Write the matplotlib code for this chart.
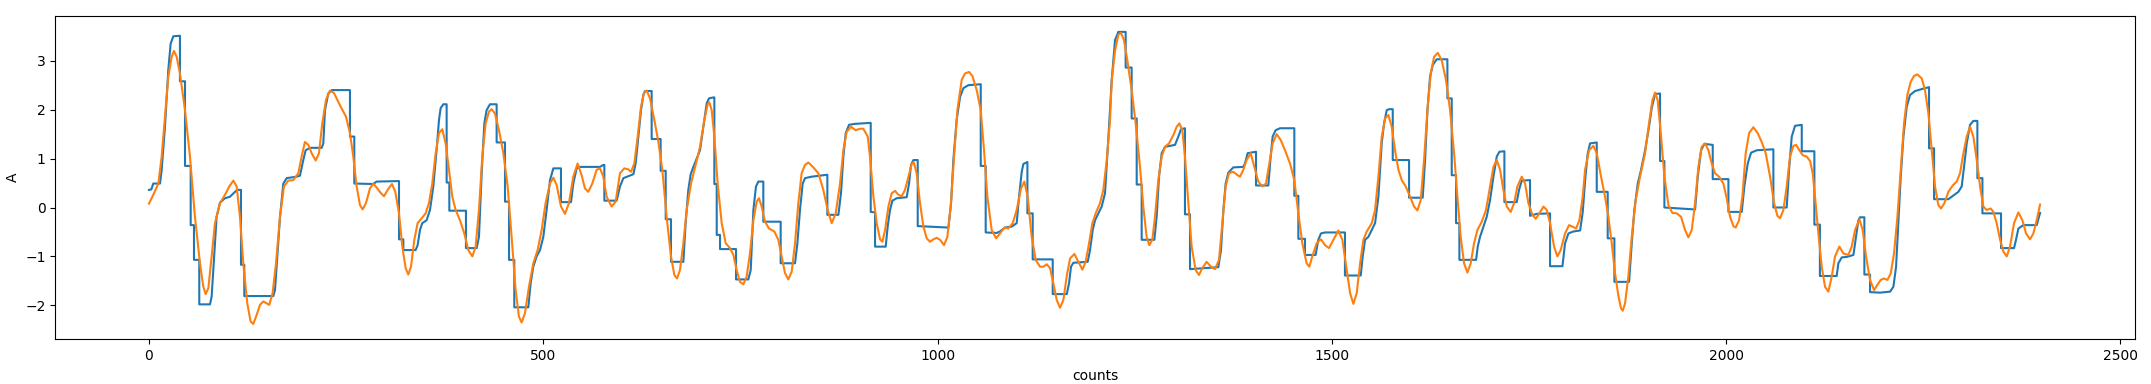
import matplotlib
matplotlib.use("Agg")
import matplotlib.pyplot as plt

# step signal (blue), vertices
blue_counts = [0, 3, 5.5, 14, 16.1, 20.3, 24.5, 27.5, 30.9, 39.3,
               39.3, 45.7, 45.7, 52.9, 52.9, 57.1, 57.1, 63.8, 63.8, 77.4,
               79.5, 82.4, 85.8, 90.1, 96.4, 102.7, 109.1, 112.0, 116.7,
               116.7, 120.9, 120.9, 157.7,
               159.8, 162.8, 166.2, 170.4, 174.6, 187.3, 191.5, 195.7, 198.7, 204.2, 219.0, 221.1, 223.2, 227.4, 231.7, 254.9,
               254.9, 260.4, 260.4, 284.5, 288.7, 317.1,
               317.1, 322.6, 322.6, 338.2, 340.7, 343.7, 346.6, 352.1, 356.4, 360.6, 364.8, 367.8, 369.9, 373.3, 377.5,
               377.5, 380.9, 380.9, 402.0, 402.0, 415.6,
               418.5, 421.9, 425.3, 428.2, 432.5, 440.9,
               440.9, 451.5, 451.5, 456.6, 456.6, 463.3, 463.3, 481.1,
               484.0, 487.4, 491.6, 495.9, 500.1, 504.3, 508.6, 512.8, 522.5,
               522.5, 535.2, 538.1, 542.4, 546.6, 572.0, 576.2, 577.5,
               577.5, 593.1, 597.3, 601.6,
               614.3, 617.2, 620.6, 624.0, 627.0, 629.1, 637.5,
               637.5, 648.9, 648.9, 655.3, 655.3, 662.0, 662.0, 677.7,
               680.6, 684.0, 687.0, 690.4, 694.6, 698.8, 703.0, 707.3, 710.2, 715.7, 717.0,
               717.0, 720.0, 720.0, 724.2, 724.2, 744.5, 744.5, 760.1,
               763.1, 766.5, 769.8, 772.8, 779.1,
               779.1, 801.1, 801.1, 819.3,
               822.3, 825.6, 829.0, 832.0, 840.4, 860.3,
               860.3, 874.3, 877.6, 880.6, 883.6, 887.8, 895.4, 915.3,
               915.3, 920.8, 920.8, 934.3, 936.8, 939.8, 942.8, 948.3, 960.9, 963.9, 966.4, 969.4, 974.9,
               974.9, 1013.8, 1017.2, 1020.1, 1024.3, 1028.6, 1032.8, 1039.1, 1054.8,
               1054.8, 1061.1, 1061.1, 1075.1, 1079.3, 1085.6, 1094.1, 1100.4, 1103.4, 1106.8, 1108.9, 1114.0,
               1114.0, 1120.7, 1120.7, 1146.1, 1146.1, 1163.9,
               1166.8, 1169.3, 1172.3, 1190.5, 1193.4, 1196.8, 1199.8, 1204.0, 1208.2, 1212.4,
               1216.6, 1220.9, 1225.1, 1229.3, 1238.6,
               1238.6, 1246.2, 1246.2, 1252.6, 1252.6, 1258.9, 1258.9, 1275.0,
               1277.9, 1280.9, 1284.3, 1288.5, 1301.2, 1305.4, 1308.8, 1313.8,
               1313.8, 1320.2, 1320.2, 1356.1,
               1359.5, 1362.5, 1365.4, 1368.8, 1375.1, 1387.8, 1389.9, 1393.3, 1403.9,
               1403.9, 1419.5, 1422.5, 1425.0, 1428.8, 1434.3, 1452.5,
               1452.5, 1457.6, 1457.6, 1466.0, 1466.0, 1479.5,
               1482.9, 1486.3, 1491.4, 1516.7,
               1516.7, 1536.7,
               1539.2, 1542.2, 1546.4, 1550.7, 1554.9, 1559.1, 1563.3, 1566.3, 1569.7, 1573.1, 1577.3,
               1577.3, 1598.0, 1598.0, 1615.3,
               1618.3, 1621.3, 1624.6, 1628.0, 1633.1, 1646.6,
               1646.6, 1652.1, 1652.1, 1657.6, 1657.6, 1661.8, 1661.8, 1683.0,
               1685.1, 1688.0, 1692.3, 1696.5, 1700.7, 1705.0, 1709.2, 1712.6, 1718.9,
               1718.9, 1734.5, 1737.5, 1740.9, 1751.4,
               1751.4, 1759.9, 1776.8, 1776.8, 1792.5,
               1795.8, 1800.1, 1806.4, 1814.9, 1818.2, 1821.5, 1824.5, 1827.5, 1836.0,
               1836.0, 1849.9, 1849.9, 1858.4, 1858.4, 1877.0,
               1880.4, 1883.7, 1888.0, 1892.2, 1897.3, 1902.3, 1905.7, 1910.0, 1916.3,
               1916.3, 1921.8, 1921.8, 1960.7,
               1964.1, 1968.3, 1972.5, 1983.1,
               1983.1, 2003.0, 2003.0, 2019.9,
               2023.2, 2027.5, 2031.7, 2038.9, 2060.0,
               2060.0, 2076.9, 2079.9, 2083.3, 2087.5, 2096.0,
               2096.0, 2112.0, 2112.0, 2119.0, 2119.0, 2140.3,
               2142.4, 2146.7, 2153.0, 2161.5, 2164.8, 2167.8, 2169.9, 2175.4,
               2175.4, 2182.6, 2182.6, 2195.3, 2208.0, 2212.2, 2215.6, 2218.5, 2221.5, 2224.9, 2229.1, 2233.3, 2239.7, 2248.1, 2257.4,
               2257.4, 2263.8, 2263.8, 2281.9, 2286.2, 2294.6, 2298.8, 2301.8, 2305.2, 2309.4, 2313.6, 2318.7,
               2318.7, 2325.1, 2325.1, 2348.7, 2348.7, 2365.2,
               2367.7, 2370.7, 2377.0, 2394.0, 2398.2]
blue_A = [0.36, 0.37, 0.49, 0.49, 0.77, 1.65, 2.81, 3.35, 3.50, 3.51,
          2.58, 2.58, 0.85, 0.85, -0.36, -0.36, -1.07, -1.07, -1.98, -1.98,
          -1.82, -1.07, -0.19, 0.10, 0.19, 0.22, 0.32, 0.36, 0.36,
          -1.17, -1.17, -1.81, -1.81,
          -1.69, -1.0, -0.19, 0.49, 0.60, 0.63, 0.65, 0.97, 1.17, 1.22, 1.22, 1.31, 1.99, 2.33, 2.40, 2.40,
          1.45, 1.45, 0.49, 0.48, 0.53, 0.54,
          -0.65, -0.65, -0.87, -0.87, -0.77, -0.46, -0.32, -0.26, -0.05, 0.43, 1.18, 1.79, 2.03, 2.11, 2.11,
          0.51, 0.51, -0.065, -0.065, -0.83, -0.83,
          -0.60, 0.70, 1.72, 1.99, 2.11, 2.11,
          1.33, 1.33, 0.12, 0.12, -1.07, -1.07, -2.04, -2.04,
          -1.55, -1.21, -1.0, -0.87, -0.60, -0.05, 0.56, 0.80, 0.80,
          0.11, 0.11, 0.49, 0.80, 0.83, 0.83, 0.87, 0.87,
          0.14, 0.14, 0.43, 0.60,
          0.68, 0.90, 1.45, 1.99, 2.30, 2.38, 2.38,
          1.40, 1.40, 0.75, 0.75, -0.24, -0.24, -1.11, -1.11,
          -0.32, 0.36, 0.68, 0.83, 1.0, 1.17, 1.65, 2.13, 2.23, 2.25, 2.25,
          0.48, 0.48, -0.56, -0.56, -0.85, -0.85, -1.47, -1.47,
          -1.28, -0.05, 0.43, 0.53, 0.53,
          -0.29, -0.29, -1.14, -1.14,
          -0.73, -0.05, 0.49, 0.60, 0.63, 0.67,
          -0.15, -0.15, 0.29, 1.04, 1.52, 1.69, 1.71, 1.73,
          -0.09, -0.10, -0.80, -0.80, -0.39, -0.05, 0.14, 0.19, 0.21, 0.49, 0.87, 0.97, 0.97,
          -0.38, -0.41, 0.09, 0.97, 1.79, 2.26, 2.44, 2.50, 2.52,
          0.85, 0.85, -0.51, -0.52, -0.49, -0.41, -0.39, -0.32, 0.22, 0.73, 0.89, 0.93,
          -0.12, -0.12, -1.06, -1.06, -1.77, -1.77,
          -1.55, -1.21, -1.13, -1.11, -0.87, -0.46, -0.26, -0.12, 0.02, 0.29,
          1.4, 2.6, 3.42, 3.59, 3.59,
          2.86, 2.86, 1.82, 1.82, 0.47, 0.47, -0.66, -0.66,
          -0.19, 0.63, 1.11, 1.24, 1.28, 1.45, 1.60, 1.62,
          -0.14, -0.14, -1.26, -1.22,
          -0.87, -0.05, 0.49, 0.71, 0.82, 0.83, 0.90, 1.11, 1.14,
          0.45, 0.45, 1.04, 1.45, 1.58, 1.62, 1.62,
          0.24, 0.24, -0.64, -0.64, -0.97, -0.97,
          -0.66, -0.53, -0.51, -0.51,
          -1.39, -1.39,
          -1.0, -0.66, -0.60, -0.46, -0.32, 0.22, 1.31, 1.72, 1.99, 2.01, 2.01,
          0.97, 0.97, 0.20, 0.20,
          0.97, 1.99, 2.67, 2.91, 3.03, 3.03,
          2.23, 2.23, 0.66, 0.66, -0.32, -0.32, -1.07, -1.07,
          -0.80, -0.60, -0.39, -0.19, 0.15, 0.63, 1.04, 1.14, 1.15,
          0.11, 0.11, 0.36, 0.55, 0.56,
          -0.17, -0.13, -0.12, -1.20, -1.20,
          -0.73, -0.53, -0.49, -0.47, -0.1, 0.6, 1.1, 1.31, 1.33,
          0.32, 0.32, -0.63, -0.63, -1.52, -1.52,
          -0.73, -0.05, 0.49, 0.77, 1.17, 1.65, 2.03, 2.32, 2.33,
          0.95, 0.95, 0.0, -0.04,
          0.63, 1.17, 1.30, 1.28,
          0.58, 0.58, -0.09, -0.09,
          0.43, 0.90, 1.12, 1.17, 1.19,
          0.0, 0.0, 0.77, 1.45, 1.67, 1.69,
          1.15, 1.15, -0.35, -0.35, -1.40, -1.40,
          -1.14, -1.02, -1.01, -0.97, -0.60, -0.26, -0.20, -0.20,
          -1.37, -1.37, -1.73, -1.74, -1.72, -1.62, -1.21, -0.32, 0.63, 1.45, 2.06, 2.30, 2.38, 2.42, 2.46,
          1.21, 1.21, 0.17, 0.17, 0.22, 0.32, 0.43, 0.83, 1.31, 1.69, 1.77, 1.77,
          0.60, 0.60, -0.12, -0.12, -0.83, -0.83,
          -0.66, -0.43, -0.36, -0.36, -0.11]

# smoothed signal (orange)
orange_counts = [0, 5.5, 11.9, 16.1, 20.3, 24.5, 28.8, 31.7, 35.1, 39.3, 45.7, 52.0, 58.3, 64.7, 68.9, 71.9, 75.3,
                 79.5, 83.7, 90.1, 96.4, 101.9, 107.0, 111.2, 115.4, 119.6, 124.7, 128.9, 132.3, 136.5, 140.8,
                 145.0, 149.2, 152.6, 156.8, 161.1, 166.2, 171.2, 176.7, 183.0, 189.4, 193.6, 197.8, 202.1, 206.3,
                 211.4, 215.6, 219.8, 224.5, 229.5, 234.6, 242.2, 249.8, 254.9, 259.1, 263.4, 267.6, 271.0, 275.2,
                 280.3, 284.5, 289.6, 293.8, 298.0, 303.5, 308.2, 312.4,
                 317.1, 321.3, 325.5, 328.9, 332.3, 336.5, 340.7, 345.8, 350.9, 355.1, 359.3, 363.6, 367.8, 372.0,
                 376.2, 380.5, 384.7, 388.9, 394.4, 399.9, 405.0, 410.1, 414.3, 418.5, 422.7, 427.0, 431.2, 434.6,
                 438.8, 443.9, 449.4, 454.9, 459.9, 465.0, 469.2, 472.6, 476.8, 481.9, 487.4, 492.9, 498.0, 503.0,
                 508.5, 512.8, 517.0, 522.5, 527.6, 532.6, 538.1, 543.6, 548.7, 552.9, 557.1, 562.2, 567.7, 572.0,
                 576.2, 580.4, 586.7, 591.8, 597.3, 602.8,
                 607.9, 611.3, 615.5, 619.8, 624.0, 627.8, 631.2, 635.4, 640.9, 646.0, 651.0, 656.5, 662.0, 666.3,
                 669.6, 673.4, 677.7, 681.9, 687.4, 693.3, 698.8, 704.3, 708.5, 710.6, 713.6, 717.0, 721.2, 726.3,
                 731.4, 736.9, 741.1, 745.3, 749.5, 753.8, 758.0, 762.2, 766.5, 770.7, 773.6, 777.0, 781.2, 786.3,
                 793.1, 798.1, 802.4, 806.6, 810.8, 815.1, 819.3, 823.5, 827.7, 832.0, 836.2, 842.5, 848.9, 855.2,
                 860.7, 865.8, 870.9, 876.4, 880.6, 884.8, 890.3, 896.2, 901.7, 905.9,
                 911.5, 914.4, 918.7, 922.9, 927.1, 930.1, 933.5, 937.7, 941.9, 946.1, 950.4, 954.6, 958.8, 963.1,
                 967.3, 969.8, 973.6, 977.8, 982.1, 986.3, 990.5, 994.8, 999.0, 1003.2, 1008.3, 1012.5, 1016.7,
                 1021.0, 1025.2, 1030.7, 1034.9, 1040.0, 1044.2, 1049.7, 1054.8, 1059.0, 1063.2, 1068.7, 1074.2,
                 1079.3, 1084.8, 1089.9, 1095.4, 1100.4, 1105.9, 1110.1, 1114.4, 1119.4, 1124.5, 1130.0, 1134.2,
                 1138.5, 1142.7, 1146.9, 1151.2, 1155.4, 1159.6, 1163.8, 1168.1, 1173.6, 1178.6, 1183.7, 1187.9,
                 1192.2, 1196.4, 1200.6, 1206.1, 1210.3, 1214.6, 1218.8,
                 1220.9, 1225.1, 1229.3, 1232.7, 1236.5, 1240.7, 1246.2, 1251.3, 1256.8, 1261.0, 1265.2, 1268.6,
                 1272.4, 1275.8, 1280.0, 1284.3, 1288.5, 1293.6, 1299.1, 1303.3, 1306.7, 1310.5, 1313.8, 1318.1,
                 1322.3, 1327.4, 1331.6, 1335.8, 1341.3, 1346.8, 1351.9, 1357.0, 1361.2, 1365.4, 1369.6, 1375.1,
                 1380.6, 1383.6, 1387.8, 1392.0, 1397.1, 1401.8, 1406.8, 1411.9, 1416.6, 1420.8, 1425.0, 1430.1,
                 1435.2, 1440.7, 1447.0, 1452.5, 1457.6, 1462.6, 1468.1, 1471.5, 1475.3, 1480.8, 1486.3, 1491.4,
                 1496.5, 1502.0, 1508.3, 1513.4,
                 1519.0, 1523.2, 1527.4, 1531.6, 1535.9, 1540.1, 1544.3, 1550.7, 1554.9, 1559.1, 1563.3, 1567.6,
                 1571.8, 1576.0, 1580.2, 1584.5, 1588.7, 1593.8, 1599.3, 1604.3, 1608.6, 1612.8, 1617.0, 1621.3,
                 1625.5, 1629.7, 1634.4, 1639.4, 1644.9, 1650.0, 1655.1, 1659.3, 1663.5, 1667.7, 1672.0, 1676.2,
                 1680.4, 1684.7, 1690.2, 1695.6, 1700.7, 1705.0, 1709.2, 1713.4, 1717.6, 1721.9, 1726.9, 1731.2,
                 1735.4, 1740.9, 1745.1, 1749.3, 1754.4, 1758.6, 1762.9, 1768.4, 1772.6, 1776.8, 1781.9, 1786.1,
                 1790.3, 1795.8, 1800.9, 1805.1, 1809.8, 1814.0, 1818.2,
                 1821.2, 1826.3, 1831.7, 1836.0, 1841.5, 1846.5, 1850.8, 1855.0, 1859.2, 1863.5, 1866.8, 1869.0,
                 1871.9, 1876.1, 1880.4, 1885.4, 1890.9, 1897.3, 1902.3, 1906.6, 1910.0, 1913.3, 1917.6, 1921.8,
                 1926.9, 1931.9, 1937.4, 1942.9, 1948.0, 1952.2, 1956.5, 1960.7, 1964.9, 1969.1, 1973.4, 1977.6,
                 1981.8, 1986.0, 1991.1, 1996.6, 2000.8, 2005.1, 2009.3, 2012.2, 2016.5, 2020.7, 2024.9, 2029.2,
                 2034.6, 2040.1, 2045.2, 2050.3, 2055.8, 2060.9, 2065.1, 2068.5, 2072.7, 2076.9, 2081.1, 2085.4,
                 2088.8, 2093.0, 2097.2, 2102.3, 2106.5,
                 2109.9, 2112.8, 2117.1, 2121.3, 2125.5, 2129.8, 2134.0, 2138.2, 2143.7, 2148.8, 2155.1, 2159.3,
                 2163.6, 2169.1, 2173.3, 2177.5, 2182.6, 2187.7, 2191.9, 2196.1, 2200.3, 2204.6, 2208.8, 2213.0,
                 2217.3, 2221.5, 2225.7, 2229.9, 2234.2, 2238.4, 2242.6, 2248.1, 2252.3, 2256.6, 2260.8, 2265.0,
                 2269.2, 2272.6, 2276.9, 2281.9, 2287.4, 2292.5, 2296.7, 2301.0, 2305.2, 2309.4, 2313.6, 2317.9,
                 2322.1, 2326.3, 2330.5, 2335.6, 2339.0, 2343.2, 2347.5, 2351.7, 2355.9, 2360.1, 2365.2, 2370.7,
                 2375.8, 2380.4, 2385.5, 2389.7, 2393.9, 2398.2]
orange_A = [0.08, 0.26, 0.49, 1.04, 1.86, 2.67, 3.08, 3.20, 3.08, 2.74, 1.99, 1.04, -0.19, -1.14, -1.62, -1.77, -1.65,
            -1.0, -0.32, 0.09, 0.26, 0.43, 0.55, 0.43, -0.19, -1.14, -1.96, -2.33, -2.38, -2.20, -1.99,
            -1.92, -1.96, -1.99, -1.75, -1.14, -0.19, 0.43, 0.55, 0.56, 0.70, 1.04, 1.34, 1.28, 1.11,
            0.96, 1.11, 1.72, 2.20, 2.39, 2.34, 2.09, 1.86, 1.52, 1.04, 0.43, 0.05, -0.04, 0.09,
            0.39, 0.49, 0.39, 0.30, 0.23, 0.38, 0.48, 0.32,
            -0.12, -0.80, -1.24, -1.37, -1.21, -0.66, -0.32, -0.22, -0.12, 0.09, 0.49, 1.11, 1.52, 1.60,
            1.31, 0.77, 0.22, -0.05, -0.26, -0.53, -0.87, -1.0, -0.80, -0.05, 1.04, 1.72, 1.96, 2.01,
            1.92, 1.58, 1.11, 0.43, -0.60, -1.69, -2.23, -2.35, -2.16, -1.62, -1.14, -0.87, -0.46, 0.09,
            0.49, 0.61, 0.46, 0.02, -0.13, 0.09, 0.63, 0.90, 0.66, 0.39, 0.32, 0.49, 0.77, 0.80,
            0.63, 0.22, 0.02, 0.12, 0.70, 0.80,
            0.78, 0.73, 0.90, 1.45, 2.06, 2.35, 2.39, 2.23, 1.79, 1.34, 0.77, -0.19, -1.00, -1.38,
            -1.45, -1.28, -0.73, -0.05, 0.49, 0.87, 1.24, 1.79, 2.11, 2.15, 1.99, 1.45, 0.49, -0.32,
            -0.73, -0.83, -0.97, -1.28, -1.52, -1.57, -1.41, -0.93, -0.26, 0.12, 0.19, 0.02, -0.29, -0.43,
            -0.49, -0.66, -1.0, -1.34, -1.47, -1.31, -0.73, 0.09, 0.70, 0.87, 0.92, 0.82, 0.70, 0.36,
            -0.05, -0.32, -0.12, 0.49, 1.17, 1.55, 1.65, 1.58, 1.61, 1.61,
            1.45, 1.04, 0.22, -0.32, -0.65, -0.70, -0.46, 0.02, 0.29, 0.34, 0.26, 0.23, 0.36, 0.63,
            0.89, 0.93, 0.70, 0.09, -0.39, -0.63, -0.70, -0.65, -0.62, -0.66, -0.77, -0.60, 0.02,
            1.04, 1.99, 2.61, 2.74, 2.77, 2.69, 2.40, 1.99, 1.17, 0.22, -0.46, -0.63,
            -0.53, -0.41, -0.43, -0.32, -0.05, 0.39, 0.53, 0.22, -0.60, -1.07, -1.21, -1.21,
            -1.16, -1.24, -1.55, -1.89, -2.05, -1.89, -1.41, -1.04, -0.95, -1.11, -1.27, -1.11,
            -0.73, -0.32, -0.12, 0.09, 0.36, 0.97, 1.79,
            2.6, 3.2, 3.53, 3.57, 3.42, 3.01, 2.40, 1.72, 0.83, 0.02, -0.60, -0.77,
            -0.66, -0.19, 0.56, 1.04, 1.24, 1.31, 1.48, 1.65, 1.72, 1.58, 1.04, 0.09,
            -0.80, -1.28, -1.38, -1.24, -1.11, -1.21, -1.26, -1.07, -0.32, 0.43, 0.70, 0.73,
            0.66, 0.63, 0.77, 0.97, 1.11, 0.83, 0.53, 0.43, 0.49, 0.90, 1.31, 1.50,
            1.38, 1.17, 0.90, 0.56, -0.12, -0.73, -1.14, -1.21, -1.0, -0.73, -0.65, -0.77,
            -0.83, -0.66, -0.47, -0.66,
            -1.28, -1.75, -1.97, -1.75, -1.14, -0.66, -0.49, -0.32, -0.05, 0.63, 1.44, 1.82,
            1.89, 1.65, 1.17, 0.77, 0.56, 0.43, 0.22, 0.02, -0.06, 0.15, 0.97, 1.99,
            2.74, 3.08, 3.16, 3.01, 2.60, 1.99, 1.11, 0.22, -0.60, -1.14, -1.33, -1.14,
            -0.73, -0.46, -0.29, -0.05, 0.43, 0.83, 0.97, 0.77, 0.36, 0.02, -0.09, 0.09,
            0.43, 0.63, 0.49, 0.09, -0.15, -0.23, -0.13, 0.02, -0.05, -0.32, -0.80, -1.0,
            -0.87, -0.53, -0.36, -0.39, -0.43, -0.26, 0.22,
            0.77, 1.17, 1.26, 1.11, 0.63, 0.22, -0.19, -0.73, -1.34, -1.81, -2.06, -2.11,
            -1.96, -1.41, -0.60, 0.15, 0.63, 1.11, 1.72, 2.19, 2.35, 2.19, 1.45, 0.63,
            0.05, -0.11, -0.12, -0.19, -0.46, -0.61, -0.46, 0.09, 0.83, 1.24, 1.31, 1.17,
            0.90, 0.70, 0.63, 0.49, 0.19, -0.19, -0.38, -0.41, -0.26, 0.22, 1.11, 1.52,
            1.64, 1.52, 1.34, 1.11, 0.63, 0.09, -0.17, -0.22, -0.05, 0.43, 1.04, 1.26,
            1.28, 1.17, 1.07, 1.04, 0.95,
            0.70, 0.22, -0.53, -1.21, -1.62, -1.72, -1.41, -1.0, -0.80, -0.94, -0.97, -0.80,
            -0.46, -0.24, -0.46, -1.0, -1.48, -1.69, -1.58, -1.48, -1.45, -1.48, -1.35, -0.94,
            -0.19, 0.77, 1.72, 2.30, 2.57, 2.69, 2.72, 2.64, 2.40, 1.92, 1.17, 0.43,
            0.05, -0.02, 0.09, 0.32, 0.45, 0.53, 0.70, 1.11, 1.45, 1.65, 1.45, 0.97,
            0.43, 0.02, -0.05, -0.02, -0.09, -0.32, -0.66, -0.90, -1.0, -0.80, -0.32, -0.10,
            -0.26, -0.53, -0.65, -0.53, -0.26, 0.06]

fig, ax = plt.subplots(figsize=(21.51, 3.84), dpi=100)
ax.plot(blue_counts, blue_A, color='tab:blue')
ax.plot(orange_counts, orange_A, color='tab:orange')
ax.set_xlim(-118.8, 2518.7)
ax.set_ylim(-2.694, 3.914)
ax.set_xlabel('counts')
ax.set_ylabel('A')
fig.subplots_adjust(left=0.0257, right=0.9926, top=0.9583, bottom=0.1164)
fig.savefig('out.png')
